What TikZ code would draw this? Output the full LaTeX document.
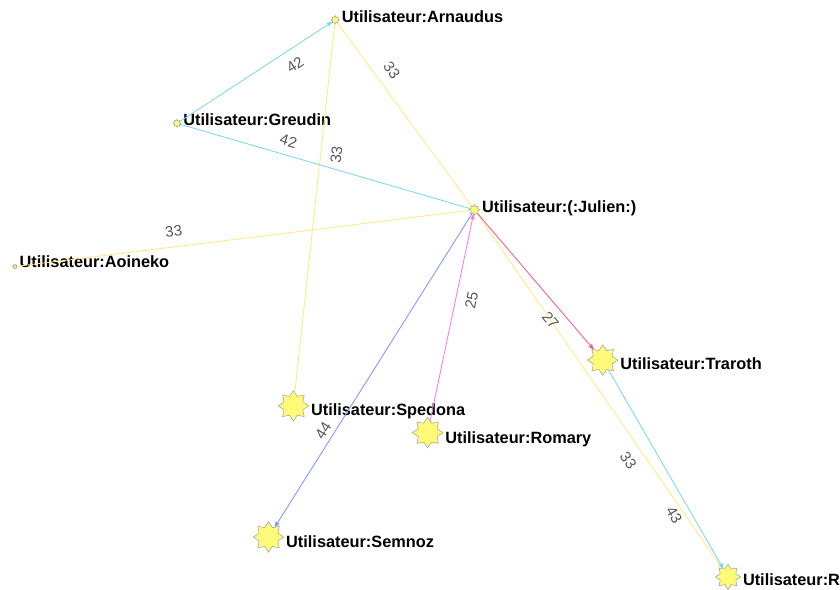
\documentclass[tikz,border=0pt]{standalone}
\usepackage{fontspec}
\setmainfont{Liberation Sans}
\usetikzlibrary{arrows,shapes.geometric}
\definecolor{starfill}{RGB}{255,250,120}
\definecolor{edgecyan}{RGB}{120,215,240}
\definecolor{edgeyellow}{RGB}{255,232,130}
\definecolor{edgeblue}{RGB}{125,145,255}
\definecolor{edgepink}{RGB}{255,120,215}
\definecolor{edgered}{RGB}{240,90,140}
\tikzset{
    vtx/.style={
        star,
        star points=8,
        star point ratio=1.5,
        draw=gray!80,
        fill=starfill,
        inner sep=0pt,
    },
    bigvtx/.style={
        vtx,
        minimum size=9.2mm,
    },
    smallvtx/.style={
        vtx,
        minimum size=#1,
    },
    nlbl/.style={
        font=\fontsize{14}{16}\selectfont\bfseries,
        inner sep=0pt,
        anchor=base west,
        text=black,
    },
    elbl/.style={
        font=\fontsize{13}{15}\selectfont,
        text=gray!70!black,
        inner sep=0pt,
        sloped,
    },
    cyanE/.style={draw=edgecyan,line width=0.7pt},
    yellowE/.style={draw=edgeyellow,line width=0.7pt},
    blueE/.style={draw=edgeblue,line width=0.7pt},
    pinkE/.style={draw=edgepink,line width=0.7pt},
    redE/.style={draw=edgered,line width=0.7pt},
}

\begin{document}
\begin{tikzpicture}[x=0.3mm,y=-0.3mm,>=stealth',label distance=1.5pt]
    \path[fill=white] (0,0) rectangle (840,592);
    % users
    \node [smallvtx=2.6mm,label={[nlbl,yshift=-2pt]right:{Utilisateur:Arnaudus}}] (arnaudus) at (337,20) {};
    \node [smallvtx=2.4mm,label={[nlbl,yshift=-2pt]right:{Utilisateur:Greudin}}] (greudin) at (178,124) {};
    \node [smallvtx=3.2mm,label={[nlbl,yshift=-2pt]right:{Utilisateur:(:Julien:)}}] (julien) at (477,211) {};
    \node [smallvtx=1.4mm,label={[nlbl,yshift=-1pt]right:{Utilisateur:Aoineko}}] (aoineko) at (15,268) {};
    \node [bigvtx,label={[nlbl,yshift=-8pt]right:{Utilisateur:Traroth}}] (traroth) at (606,362) {};
    \node [bigvtx,label={[nlbl,yshift=-8pt]right:{Utilisateur:Spedona}}] (spedona) at (295,408) {};
    \node [bigvtx,label={[nlbl,yshift=-9pt]right:{Utilisateur:Romary}}] (romary) at (430,435) {};
    \node [bigvtx,label={[nlbl,yshift=-9pt]right:{Utilisateur:Semnoz}}] (semnoz) at (270,540) {};
    \node [smallvtx=7.6mm,label={[nlbl,yshift=-7pt]right:{Utilisateur:R}}] (rnode) at (732,580) {};
    % links
    \draw [yellowE] (arnaudus) -- node[elbl,above=3mm,pos=.31] {33} (julien);
    \draw [yellowE] (arnaudus) -- node[elbl,below=3mm,pos=.35] {33} (spedona);
    \draw [yellowE] (aoineko) -- node[elbl,above=3mm,pos=.35] {33} (julien);
    \draw [yellowE] (julien) -- node[elbl,below=3mm,pos=.67] {33} (rnode);
    \draw [cyanE,->] (greudin) -- node[elbl,below=3mm,pos=.70] {42} (arnaudus);
    \draw [cyanE] (greudin) -- node[elbl,above=2.5mm,pos=.36] {42} (julien);
    \draw [blueE,->] (julien) -- node[elbl,above=1.5mm,pos=.71] {44} (semnoz);
    \draw [pinkE,->] (romary) -- node[elbl,below=3mm,pos=.60] {25} (julien);
    \draw [redE,->] (julien) -- node[elbl,below=2.5mm,pos=.72] {27} (traroth);
    \draw [cyanE,->] (traroth) -- node[elbl,below=3mm,pos=.69] {43} (rnode);
\end{tikzpicture}
\end{document}
